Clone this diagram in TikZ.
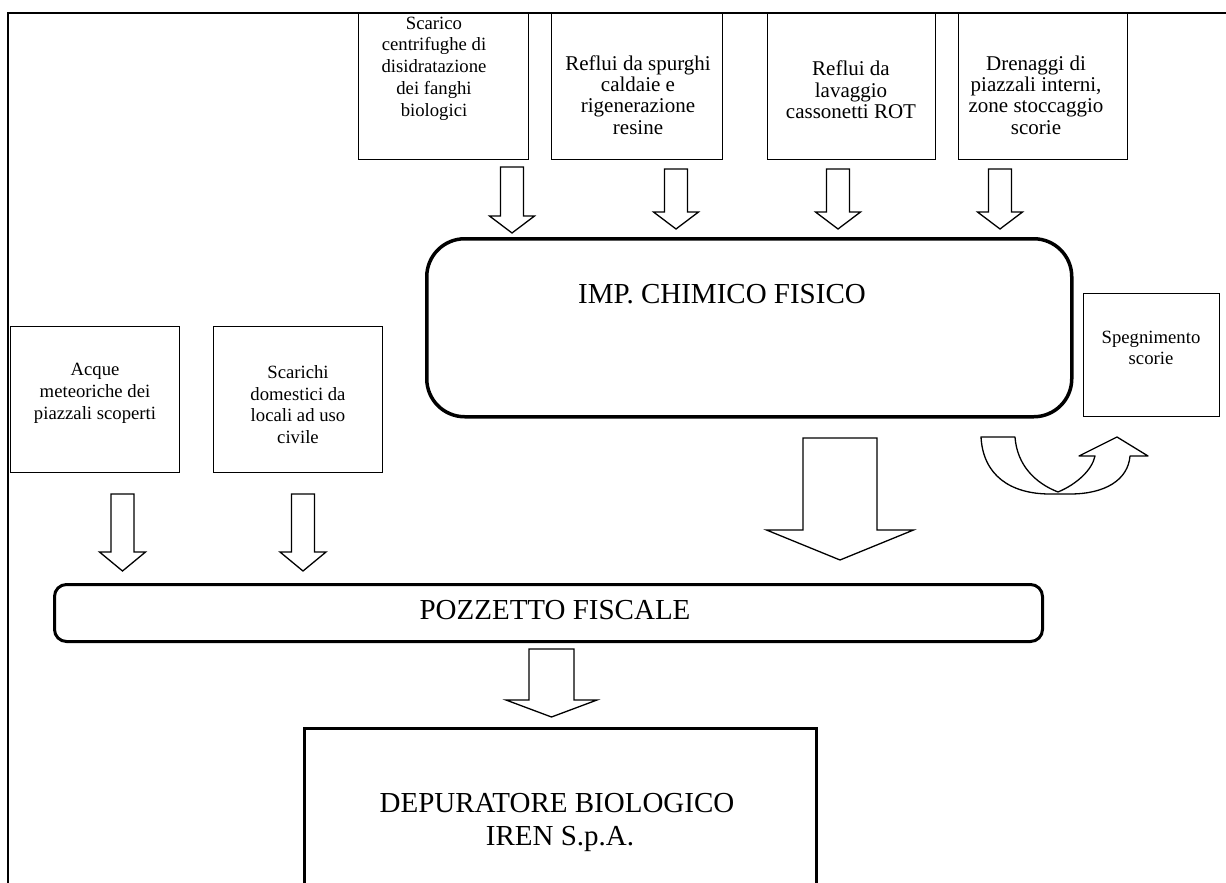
\documentclass[tikz,border=0pt]{standalone}
\usepackage{fontspec}
\setmainfont{Liberation Serif}
\newcommand{\blockarr}[6]{% cx, ytop, yhead, ytip, shaft half, head half
  \draw[barrow] (#1-#5,#2) -- (#1+#5,#2) -- (#1+#5,#3) -- (#1+#6,#3) -- (#1,#4) -- (#1-#6,#3) -- (#1-#5,#3) -- cycle;}
\tikzset{
  box/.style={draw, line width=1.3pt, inner sep=0pt, anchor=north west},
  txt/.style={align=center, inner sep=0pt, font=\fontsize{18.7}{21.7}\selectfont},
  txtl/.style={align=center, inner sep=0pt, font=\fontsize{21}{21.4}\selectfont},
  big/.style={inner sep=0pt, font=\fontsize{29}{34}\selectfont},
  barrow/.style={draw, line width=1.3pt, fill=white, line join=miter},
}
\begin{document}
\begin{tikzpicture}[x=1pt,y=-1pt]
\useasboundingbox (0,0) rectangle (1226,883);
% frame
\draw[line width=1.5pt] (1226,13) -- (8,13) -- (8,890);
% top boxes
\node[box, minimum width=170pt, minimum height=146pt] (b1) at (358,13) {};
\node[box, minimum width=171pt, minimum height=146pt] (b2) at (551,13) {};
\node[box, minimum width=168pt, minimum height=146pt] (b3) at (767,13) {};
\node[box, minimum width=169pt, minimum height=146pt] (b4) at (958,13) {};
\node[txt] (t1) at (434,68.5) {Scarico\\centrifughe di\\disidratazione\\dei fanghi\\biologici};
\node[txtl] (t2) at (638,95) {Reflui da spurghi\\caldaie e\\rigenerazione\\resine};
\node[txtl] (t3) at (851,90) {Reflui da\\lavaggio\\cassonetti ROT};
\node[txtl] (t4) at (1036,95) {Drenaggi di\\piazzali interni,\\zone stoccaggio\\scorie};
% top arrows
\blockarr{512}{167}{216}{233}{11.5}{22.5}
\blockarr{676}{169}{212}{229}{11.5}{22.5}
\blockarr{838}{169}{212}{229}{11.5}{22.5}
\blockarr{1000}{169}{212}{229}{11.5}{22.5}
% chimico fisico
\node[draw, line width=3.5pt, rounded corners=38pt, inner sep=0pt, anchor=north west,
      minimum width=645pt, minimum height=178pt] (imp) at (425,237) {};
\node[big, anchor=base] (imptxt) at (722,303) {IMP. CHIMICO FISICO};
% spegnimento
\node[box, minimum width=136pt, minimum height=123pt] (speg) at (1083,293) {};
\node[txt] (tspeg) at (1151,348) {Spegnimento\\scorie};
% U-turn arrow
\draw[barrow, line join=round] (981,437) -- (1015,437)
  .. controls (1017,465) and (1035,483) .. (1058,492)
  .. controls (1077,484) and (1092,470) .. (1095,456)
  -- (1079,456) -- (1117,437) -- (1148,456) -- (1130,456)
  .. controls (1128,480) and (1105,494) .. (1070,494)
  -- (1050,494)
  .. controls (1010,494) and (983,475) .. (981,437) -- cycle;
% big arrow
\blockarr{840}{438}{530}{560}{37}{73.5}
% left boxes
\node[box, minimum width=169pt, minimum height=146pt] (acq) at (10,326) {};
\node[box, minimum width=169pt, minimum height=146pt] (sca) at (213,326) {};
\node[txt] (tacq) at (95,393.5) {Acque\\meteoriche dei\\piazzali scoperti};
\node[txt] (tsca) at (298,404.5) {Scarichi\\domestici da\\locali ad uso\\civile};
\blockarr{122.5}{494}{552}{571}{11.5}{23}
\blockarr{303}{494}{552}{571}{11.5}{23}
% pozzetto
\node[draw, line width=3pt, rounded corners=12pt, inner sep=0pt, anchor=north west,
      minimum width=988pt, minimum height=57pt] (pozz) at (53,583) {};
\node[big, anchor=base] (tpozz) at (555,619) {POZZETTO FISCALE};
\blockarr{551.5}{649}{700}{717}{22.5}{45.5}
% depuratore
\node[draw, line width=2.5pt, inner sep=0pt, anchor=north west,
      minimum width=512pt, minimum height=200pt] (dep) at (303,727) {};
\node[big, anchor=base] (tdep1) at (557,812) {DEPURATORE BIOLOGICO};
\node[big, anchor=base] (tdep2) at (560,845) {IREN S.p.A.};
\end{tikzpicture}
\end{document}
